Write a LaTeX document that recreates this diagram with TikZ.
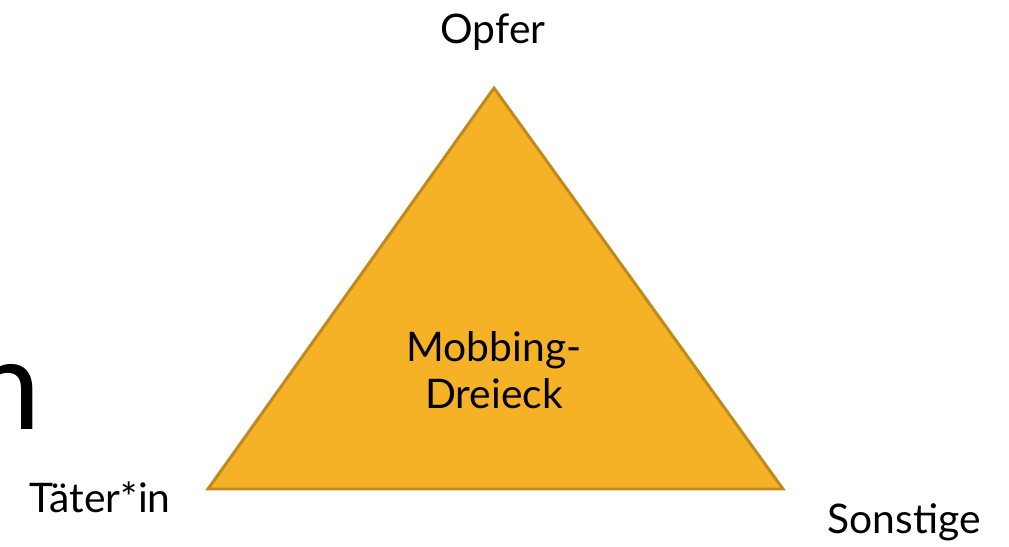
\documentclass[tikz,border=0pt]{standalone}
\usepackage{fontspec}
\setmainfont{Lato}
\usepackage{tikz}
\usetikzlibrary{positioning}
\definecolor{mobfill}{HTML}{F6B226}
\definecolor{mobline}{HTML}{BF891C}

\begin{document}
\begin{tikzpicture}
        \tikzstyle{every path}=[thick]

        \def\sizelabel{\fontsize{29}{33}\selectfont}
        \tikzstyle{corner}=[inner sep=0pt,font=\sizelabel]
        \tikzstyle{centre}=[inner sep=0pt,align=center,font=\sizelabel]
        \tikzstyle{tri}=[draw=mobline,fill=mobfill,line width=2.1pt,line join=miter]

        \useasboundingbox (0,0) rectangle (25.225,13.65);

        \coordinate (top) at (12.35,11.45);
        \coordinate (left) at (5.2,1.425);
        \coordinate (right) at (19.575,1.425);

        %the triangle
        \draw [tri] (top) -- (right) -- (left) -- cycle;

        \node [centre] (mid) at (12.35,4.4) {Mobbing-\\Dreieck};

        %label the corners
        \node [corner,anchor=base] (opfer) at (12.325,12.55) {Opfer};
        \node [corner,anchor=base] (taeter) at (2.5,0.85) {Täter*in};
        \node [corner,anchor=base] (sonst) at (22.6,0.32) {Sonstige};

        %cut off word at the left
        \node [inner sep=0pt,anchor=base east,font=\fontsize{90}{100}\selectfont] (cut) at (1.05,2.9) {n};
        \end{tikzpicture}
\end{document}
